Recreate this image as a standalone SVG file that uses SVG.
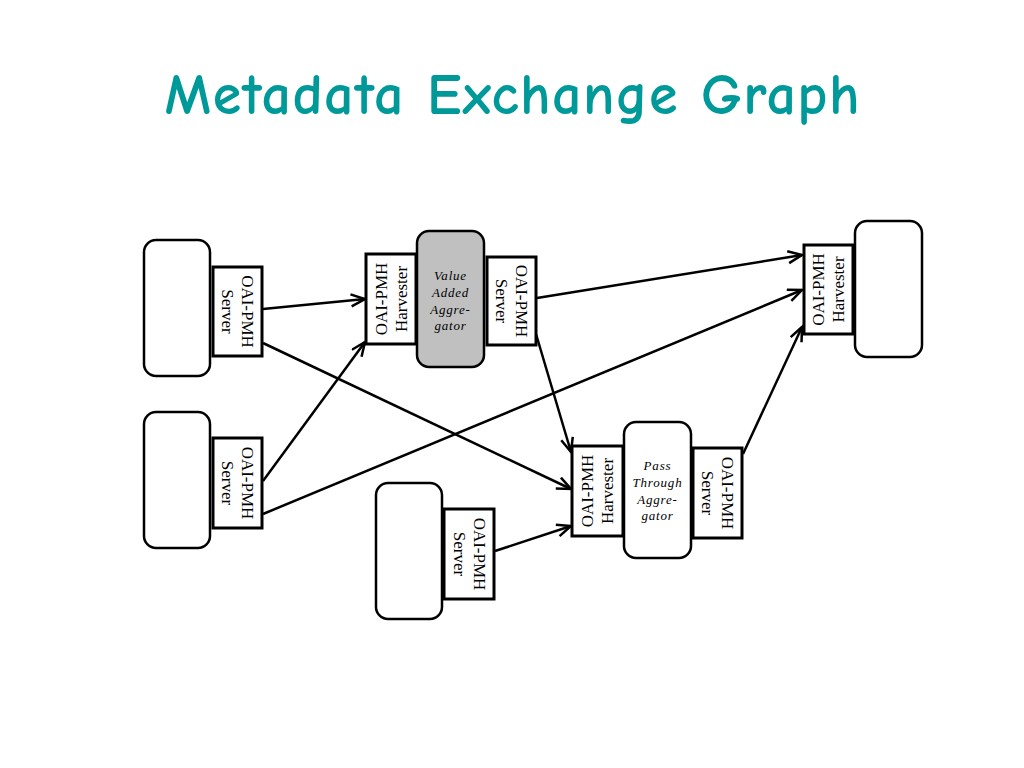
<svg xmlns="http://www.w3.org/2000/svg" width="1024" height="768" viewBox="0 0 1024 768">
<style>
.rr{fill:#fff;stroke:#000;stroke-width:2.5}
.gray{fill:#c0c0c0}
.bx{fill:#fff;stroke:#000;stroke-width:3}
.lbl{font-family:"Liberation Serif","Times New Roman",serif;font-size:17px;fill:#000;text-anchor:middle}
.agg{font-family:"Liberation Serif","Times New Roman",serif;font-size:13px;font-style:italic;letter-spacing:0.8px;fill:#000;text-anchor:middle}
.ln{stroke:#000;stroke-width:2.5;fill:none;marker-end:url(#arr)}
.title{font-family:"Comic Neue","Open Sans","DejaVu Sans",sans-serif;font-size:58px;font-weight:bold;fill:#009999;text-anchor:middle}
</style>
<defs>
<marker id="arr" markerUnits="userSpaceOnUse" markerWidth="20" markerHeight="16" refX="15" refY="7" orient="auto">
<path d="M1,1 L15,7 L1,13" fill="none" stroke="#000" stroke-width="2.5"/>
</marker>
</defs>
<rect width="1024" height="768" fill="#fff"/>
<text class="title" x="512" y="114" textLength="695" lengthAdjust="spacing">Metadata Exchange Graph</text>

<g id="connectors">
<line class="ln" x1="263" y1="309" x2="365" y2="299"/>
<line class="ln" x1="263" y1="343" x2="571" y2="489"/>
<line class="ln" x1="263" y1="481" x2="365" y2="342"/>
<line class="ln" x1="263" y1="514" x2="802" y2="290"/>
<line class="ln" x1="537" y1="298" x2="802" y2="255"/>
<line class="ln" x1="536" y1="334" x2="571" y2="452"/>
<line class="ln" x1="495" y1="551" x2="571" y2="526"/>
<line class="ln" x1="743" y1="454" x2="802" y2="327"/>
</g>

<g id="source1">
<rect class="rr" x="144" y="240" width="66" height="136" rx="12"/>
<rect class="bx" x="213" y="267" width="49" height="89"/>
<g transform="translate(237.5,311.5) rotate(90)">
<text class="lbl" x="0" y="-4.5">OAI-PMH</text>
<text class="lbl" x="0" y="15.5">Server</text>
</g>
</g>

<g id="source2">
<rect class="rr" x="144" y="412" width="66" height="136" rx="12"/>
<rect class="bx" x="213" y="438" width="49" height="90"/>
<g transform="translate(237.5,483) rotate(90)">
<text class="lbl" x="0" y="-4.5">OAI-PMH</text>
<text class="lbl" x="0" y="15.5">Server</text>
</g>
</g>

<g id="source3">
<rect class="rr" x="376" y="483" width="66" height="136" rx="12"/>
<rect class="bx" x="444" y="509" width="50" height="90"/>
<g transform="translate(469,554) rotate(90)">
<text class="lbl" x="0" y="-4.5">OAI-PMH</text>
<text class="lbl" x="0" y="15.5">Server</text>
</g>
</g>

<g id="value-added-aggregator">
<rect class="rr gray" x="417" y="231" width="67" height="136" rx="12"/>
<rect class="bx" x="366" y="254" width="50" height="90"/>
<g transform="translate(391,299) rotate(-90)">
<text class="lbl" x="0" y="-4.5">OAI-PMH</text>
<text class="lbl" x="0" y="15.5">Harvester</text>
</g>
<rect class="bx" x="487" y="257" width="49" height="88"/>
<g transform="translate(511.5,301) rotate(90)">
<text class="lbl" x="0" y="-4.5">OAI-PMH</text>
<text class="lbl" x="0" y="15.5">Server</text>
</g>
<text class="agg" x="450.5" y="279.5">Value</text>
<text class="agg" x="450.5" y="296.5">Added</text>
<text class="agg" x="450.5" y="313.5">Aggre-</text>
<text class="agg" x="450.5" y="329.5">gator</text>
</g>

<g id="pass-through-aggregator">
<rect class="rr" x="624" y="422" width="67" height="136" rx="12"/>
<rect class="bx" x="572" y="446" width="51" height="90"/>
<g transform="translate(597.5,491) rotate(-90)">
<text class="lbl" x="0" y="-4.5">OAI-PMH</text>
<text class="lbl" x="0" y="15.5">Harvester</text>
</g>
<rect class="bx" x="693" y="448" width="49" height="90"/>
<g transform="translate(717.5,493) rotate(90)">
<text class="lbl" x="0" y="-4.5">OAI-PMH</text>
<text class="lbl" x="0" y="15.5">Server</text>
</g>
<text class="agg" x="657.5" y="469.5">Pass</text>
<text class="agg" x="657.5" y="486.5">Through</text>
<text class="agg" x="657.5" y="503.5">Aggre-</text>
<text class="agg" x="657.5" y="520">gator</text>
</g>

<g id="service-provider">
<rect class="rr" x="855" y="221" width="67" height="136" rx="12"/>
<rect class="bx" x="804" y="245" width="49" height="89"/>
<g transform="translate(828.5,289.5) rotate(-90)">
<text class="lbl" x="0" y="-4.5">OAI-PMH</text>
<text class="lbl" x="0" y="15.5">Harvester</text>
</g>
</g>
</svg>
